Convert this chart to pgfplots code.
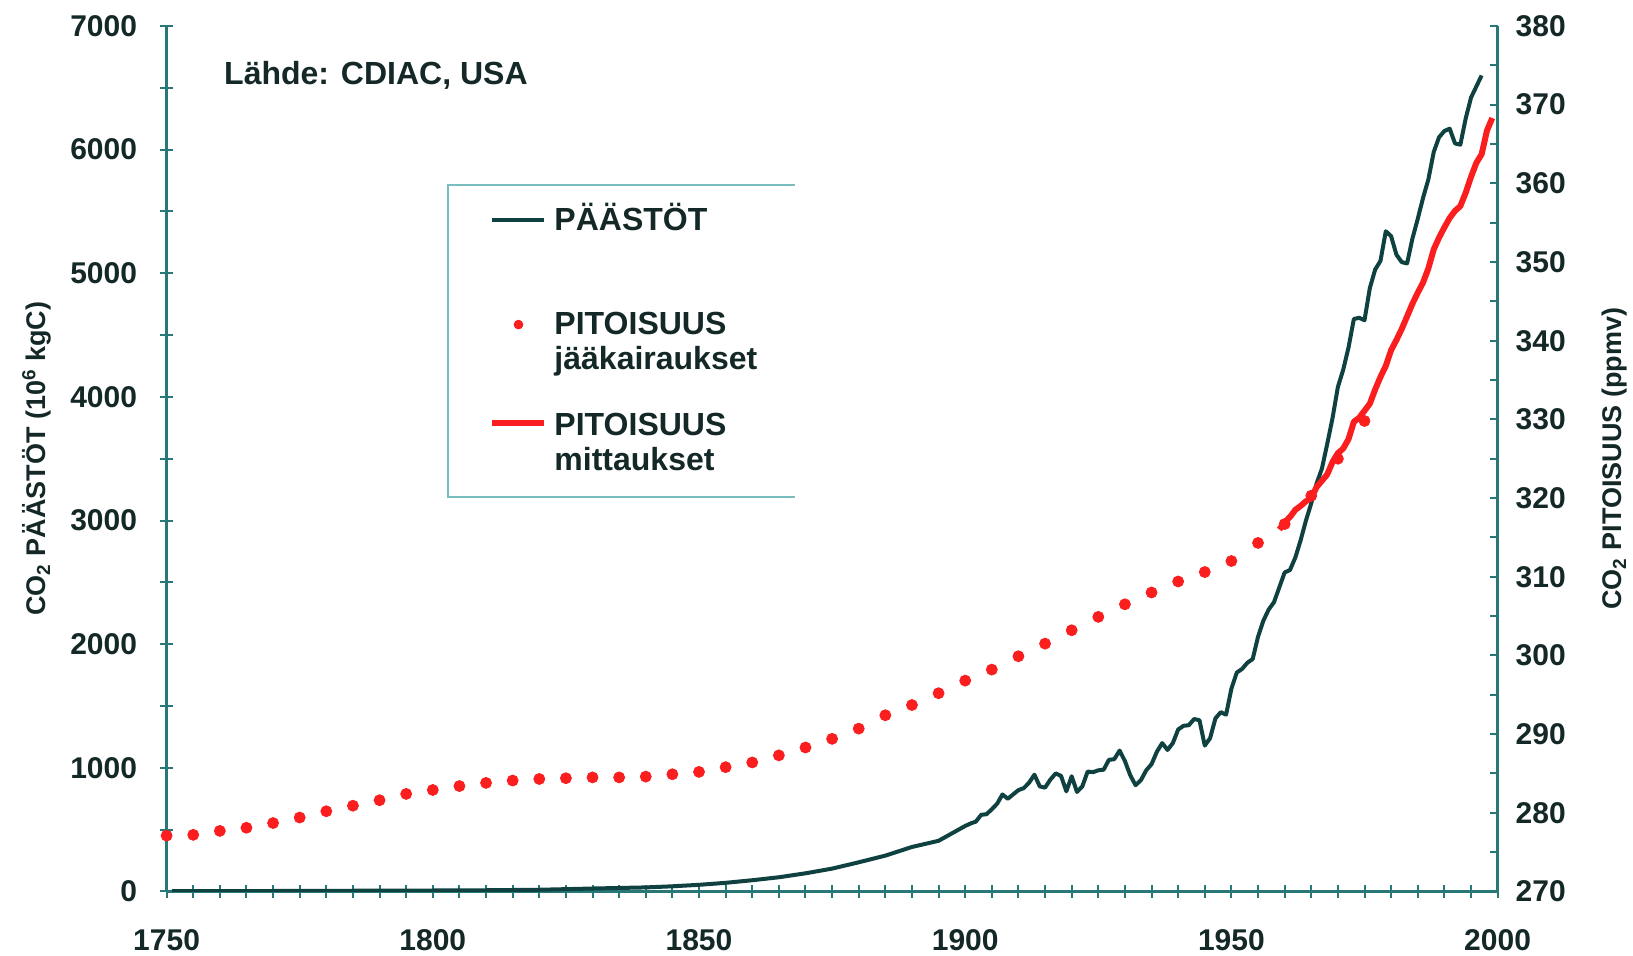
\documentclass[border=0pt]{standalone}
\usepackage{fontspec}
\setmainfont{Liberation Sans}
\usepackage{pgfplots}
\pgfplotsset{compat=1.18}
\definecolor{axcol}{RGB}{40,120,120}
\definecolor{txtcol}{RGB}{20,40,40}
\definecolor{emcol}{RGB}{15,65,65}
\definecolor{redc}{RGB}{250,30,30}
\definecolor{legbox}{RGB}{120,190,190}

\pgfplotstableread{
year val
1751 3
1760 3
1770 4
1780 5
1790 7
1800 8
1810 10
1820 14
1830 24
1840 33
1845 42
1850 54
1855 70
1860 91
1865 115
1870 147
1875 185
1880 236
1885 290
1890 360
1895 410
1900 530
1901 550
1902 565
1903 620
1904 625
1905 665
1906 710
1907 785
1908 750
1909 785
1910 820
1911 836
1912 880
1913 945
1914 850
1915 840
1916 905
1917 955
1918 935
1919 810
1920 932
1921 805
1922 850
1923 970
1924 965
1925 980
1926 985
1927 1065
1928 1070
1929 1140
1930 1055
1931 940
1932 860
1933 900
1934 980
1935 1030
1936 1130
1937 1200
1938 1145
1939 1200
1940 1310
1941 1340
1942 1345
1943 1395
1944 1385
1945 1180
1946 1240
1947 1400
1948 1450
1949 1430
1950 1640
1951 1770
1952 1800
1953 1850
1954 1880
1955 2060
1956 2190
1957 2280
1958 2340
1959 2460
1960 2580
1961 2600
1962 2700
1963 2840
1964 3000
1965 3140
1966 3300
1967 3420
1968 3620
1969 3830
1970 4080
1971 4220
1972 4400
1973 4630
1974 4640
1975 4620
1976 4880
1977 5030
1978 5100
1979 5340
1980 5300
1981 5150
1982 5090
1983 5080
1984 5280
1985 5440
1986 5610
1987 5760
1988 5980
1989 6100
1990 6150
1991 6170
1992 6050
1993 6040
1994 6250
1995 6420
1997 6600
}\emissions

\pgfplotstableread{
year ppm
1750 277.1
1755 277.2
1760 277.7
1765 278.1
1770 278.7
1775 279.4
1780 280.2
1785 280.9
1790 281.6
1795 282.4
1800 282.9
1805 283.4
1810 283.8
1815 284.1
1820 284.3
1825 284.4
1830 284.5
1835 284.5
1840 284.6
1845 284.9
1850 285.2
1855 285.8
1860 286.4
1865 287.3
1870 288.3
1875 289.4
1880 290.7
1885 292.4
1890 293.7
1895 295.2
1900 296.8
1905 298.2
1910 299.9
1915 301.5
1920 303.2
1925 304.9
1930 306.5
1935 308.0
1940 309.4
1945 310.6
1950 312.0
1955 314.3
1960 316.7
1965 320.3
1970 325.0
1975 329.8
}\icecore

\pgfplotstableread{
year ppm
1959 316.0
1960 316.9
1961 317.6
1962 318.5
1963 319.0
1964 319.6
1965 320.0
1966 321.4
1967 322.2
1968 323.0
1969 324.6
1970 325.7
1971 326.3
1972 327.5
1973 329.7
1974 330.2
1975 331.1
1976 332.0
1977 333.8
1978 335.4
1979 336.8
1980 338.8
1981 340.1
1982 341.5
1983 343.1
1984 344.7
1985 346.1
1986 347.4
1987 349.2
1988 351.6
1989 353.1
1990 354.4
1991 355.6
1992 356.5
1993 357.1
1994 358.8
1995 360.8
1996 362.6
1997 363.7
1998 366.7
1999 368.3
}\maunaloa

\begin{document}
\begin{tikzpicture}
\path[use as bounding box] (-83.3pt,-32.25pt) rectangle (733.2pt,445.75pt);
\pgfplotsset{
  base/.style={scale only axis, width=665.5pt, height=432.75pt, xmin=1750, xmax=2000,
   axis line style={axcol, line width=1.2pt},
   tick style={axcol, line width=1pt},
   /pgf/number format/assume math mode=true,
   /pgf/number format/1000 sep={},
   tick label style={font=\bfseries\fontsize{15}{18}\selectfont, text=txtcol},
   label style={font=\bfseries\fontsize{13.5}{16}\selectfont, text=txtcol},
  }
}
\begin{axis}[base,
  axis x line*=bottom, axis y line*=left,
  ymin=0, ymax=7000, ytick={0,1000,...,7000}, minor y tick num=1,
  xtick={1750,1800,...,2000}, minor x tick num=9,
  tick align=center, major tick length=6.5pt, minor tick length=6.5pt,
  xticklabel style={yshift=-12pt},
  yticklabel style={xshift=-8pt},
  scaled y ticks=false,
  ylabel={CO\textsubscript{2} PÄÄSTÖT (10\textsuperscript{6} kgC)},
  ylabel style={at={(axis description cs:-0.0974,0.5)}, anchor=center},
]
\addplot[emcol, line width=2pt, line join=round] table[x=year, y=val] {\emissions};
\node[anchor=west, font=\bfseries\fontsize{16}{19}\selectfont, text=txtcol] at (axis description cs:0.038,0.9434) {Lähde: CDIAC, USA};
\end{axis}
\begin{axis}[base,
  axis x line=none, axis y line*=right,
  ymin=270, ymax=380, ytick={270,280,...,380}, minor y tick num=1,
  tick align=inside, major tick length=4pt, minor tick length=4pt,
  yticklabel style={xshift=5.5pt},
  ylabel={CO\textsubscript{2} PITOISUUS (ppmv)},
  ylabel style={at={(axis description cs:1.088,0.5)}, anchor=center},
  legend cell align=left,
  legend style={at={(axis description cs:0.2423,0.80)}, anchor=north west, draw=none, fill=none,
    font=\bfseries\fontsize{16}{17.5}\selectfont, text=txtcol, align=left, row sep=14.6pt,
    inner sep=0pt, nodes={inner xsep=3.5pt, inner ysep=2pt, text depth={}}},
]
\addlegendimage{emcol, line width=2pt, legend image code/.code={\path (0pt,-9.9pt) (0pt,9.9pt); \draw[emcol, line width=2pt] (0pt,9.9pt) -- (26pt,9.9pt);}}
\addlegendentry{PÄÄSTÖT\\[4.7pt]\mbox{}}
\addplot[only marks, mark=*, mark size=2.75pt, redc, mark options={draw=redc, fill=redc},
  legend image code/.code={\path (0pt,-9.9pt) (0pt,9.9pt); \fill[redc] (13pt,9.9pt) circle (2.2pt);}] table[x=year, y=ppm] {\icecore};
\addlegendentry{PITOISUUS\\jääkairaukset}
\addplot[redc, line width=3pt, line join=round,
  legend image code/.code={\path (0pt,-9.9pt) (0pt,9.9pt); \draw[redc, line width=3pt] (0pt,9.9pt) -- (26pt,9.9pt);}] table[x=year, y=ppm] {\maunaloa};
\addlegendentry{PITOISUUS\\mittaukset}
\draw[legbox, line width=0.8pt] (axis description cs:0.4721,0.8163) -- (axis description cs:0.2114,0.8163) -- (axis description cs:0.2114,0.4558) -- (axis description cs:0.4721,0.4558);
\end{axis}
\end{tikzpicture}
\end{document}
